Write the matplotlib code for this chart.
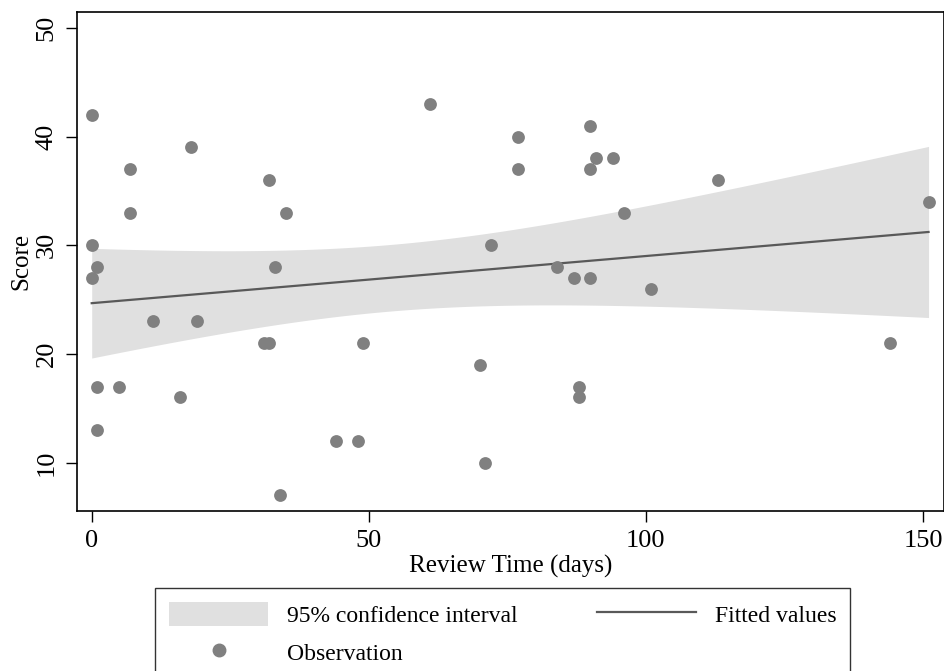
import numpy as np
import matplotlib
matplotlib.use("Agg")
import matplotlib.pyplot as plt
from matplotlib.patches import Patch
from matplotlib.lines import Line2D

plt.rcParams['font.family'] = ['Liberation Serif', 'DejaVu Serif']

# review time (days) and score for each observation
review_days = [0, 18, 7, 32, 7, 35, 0, 1, 33, 0,
               11, 19, 31, 32, 1, 5, 16, 1, 34,
               61, 77, 77, 72,
               49, 70, 44, 48, 71,
               90, 91, 94, 90, 113, 96, 84, 87, 90, 101,
               88, 88,
               151, 144]
scores = [42, 39, 37, 36, 33, 33, 30, 28, 28, 27,
          23, 23, 21, 21, 17, 17, 16, 13, 7,
          43, 40, 37, 30,
          21, 19, 12, 12, 10,
          41, 38, 38, 37, 36, 33, 28, 27, 27, 26,
          17, 16,
          34, 21]

x = np.array(review_days, dtype=float)
y = np.array(scores, dtype=float)

# linear fit with 95% CI of the mean prediction (like Stata lfitci)
n = len(x)
slope, intercept = np.polyfit(x, y, 1)
resid = y - (intercept + slope * x)
s = np.sqrt(np.sum(resid ** 2) / (n - 2))
t_crit = 2.021  # t(0.975, df=40)
xs = np.linspace(x.min(), x.max(), 100)
fit = intercept + slope * xs
se = s * np.sqrt(1.0 / n + (xs - x.mean()) ** 2 / np.sum((x - x.mean()) ** 2))
lower = fit - t_crit * se
upper = fit + t_crit * se

fig = plt.figure(figsize=(9.45, 6.71), dpi=100)
ax = fig.add_axes([0.0815, 0.239, 0.9175, 0.7427])

band_color = "#e0e0e0"
line_color = "#595959"
dot_color = "#808080"

ax.fill_between(xs, lower, upper, color=band_color, linewidth=0, zorder=1)
ax.plot(xs, fit, color=line_color, linewidth=1.6, zorder=2)
ax.scatter(x, y, s=85, color=dot_color, linewidths=0, zorder=3)

ax.set_xlim(-2.65, 153.8)
ax.set_ylim(5.58, 51.43)
ax.set_xticks([0, 50, 100, 150])
ax.set_yticks([10, 20, 30, 40, 50])
ax.tick_params(direction="out", length=8, width=1, labelsize=19, colors="black", pad=6)
for lab in ax.get_yticklabels():
    lab.set_rotation(90)
    lab.set_va("center")
ax.set_xlabel("Review Time (days)", fontsize=18, labelpad=2)
ax.set_ylabel("Score", fontsize=18, labelpad=2)
for sp in ax.spines.values():
    sp.set_linewidth(1.2)

handles = [Patch(facecolor=band_color, edgecolor="none"),
           Line2D([], [], marker="o", linestyle="none", color=dot_color, markersize=9),
           Line2D([], [], color=line_color, linewidth=1.6)]
labels = ["95% confidence interval", "Observation", "Fitted values"]
leg = fig.legend(handles, labels, loc="upper left",
                 bbox_to_anchor=(0.164, 0.0, 0.736, 0.124), mode="expand",
                 ncol=2, fontsize=17, frameon=True, fancybox=False,
                 edgecolor="black", handlelength=4.2, handleheight=1.2,
                 handletextpad=0.8, columnspacing=2.0, labelspacing=0.55,
                 borderpad=0.6, borderaxespad=0)
leg.get_frame().set_linewidth(1.0)

fig.savefig("out.png", dpi=100)
